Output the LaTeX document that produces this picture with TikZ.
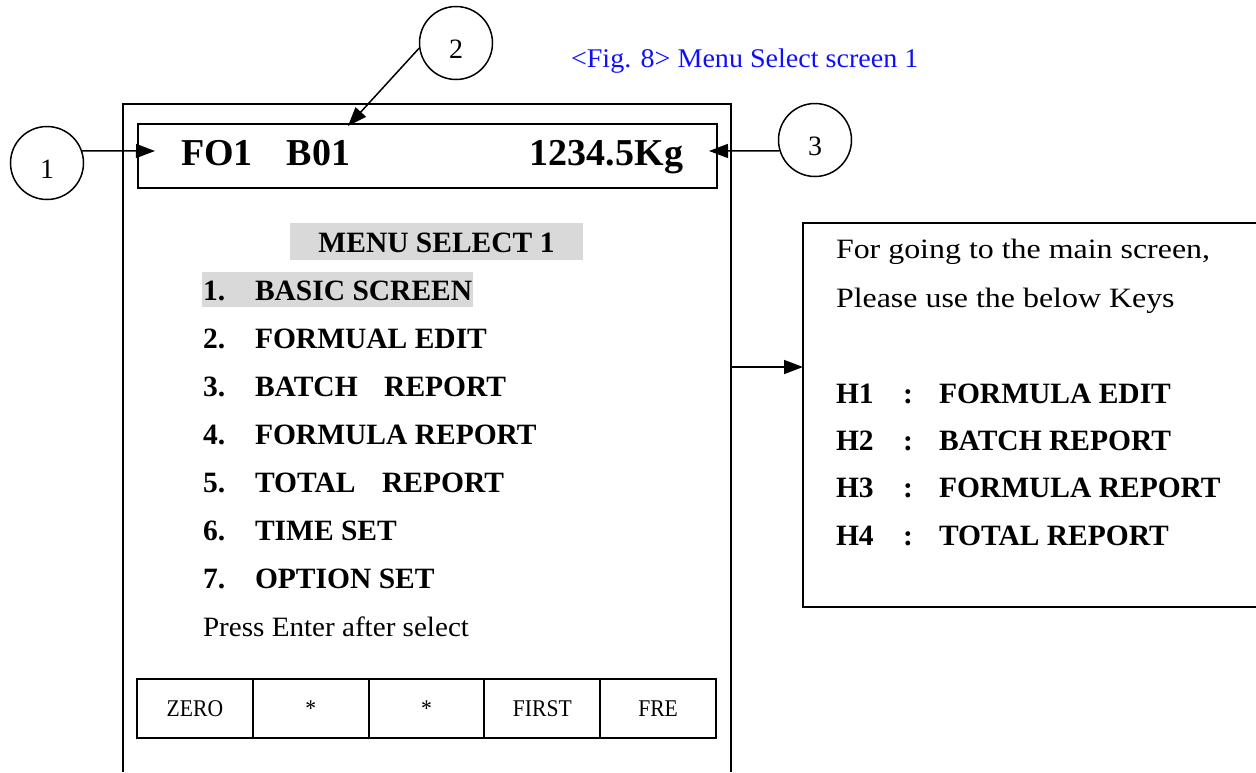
\documentclass[tikz,border=0pt]{standalone}
\usepackage{fontspec}
\setmainfont{Liberation Serif}
\newfontfamily\wideA[FakeStretch=1.14]{Liberation Serif}
\newfontfamily\wideB[FakeStretch=1.04]{Liberation Serif}
\newfontfamily\narrowC[FakeStretch=0.9]{Liberation Serif}
\usetikzlibrary{arrows.meta}
\definecolor{capblue}{RGB}{15,15,250}
\definecolor{hl}{RGB}{217,217,217}
\newcommand{\circnum}[1]{\raisebox{-15pt}[0pt][0pt]{#1}}
\begin{document}
\begin{tikzpicture}[x=1pt,y=-1pt,line width=2pt,
  circ/.style={circle,draw,line width=1.5pt,minimum size=73pt,inner sep=0pt,font=\fontsize{28}{30}\selectfont},
  arr/.style={-{Triangle[length=19pt,width=14pt]},line width=1.5pt},
  menu/.style={anchor=base west,inner sep=0pt,font=\fontsize{29.5}{31}\selectfont\bfseries},
  plainA/.style={anchor=base west,inner sep=0pt,font=\wideA\fontsize{28}{30}\selectfont},
  plainB/.style={anchor=base west,inner sep=0pt,font=\wideB\fontsize{28}{30}\selectfont},
  btn/.style={draw,minimum width=115.8pt,minimum height=59pt,inner sep=0pt,font=\narrowC\fontsize{24}{26}\selectfont}]
\useasboundingbox (0,0) rectangle (1256,772);
% screen outline
\draw (123,772) -- (123,104) -- (731,104) -- (731,772);
% header
\node[draw,minimum width=579pt,minimum height=64pt,anchor=north west] (hdr) at (137,123) {};
\node[anchor=base west,inner sep=0pt,font=\fontsize{38}{40}\selectfont\bfseries] (fo) at (180,165) {FO1\hspace{0.9em}B01};
\node[anchor=base east,inner sep=0pt,font=\fontsize{38}{40}\selectfont\bfseries] (kg) at (684,165) {1234.5Kg};
% circles
\node[circ] (c1) at (47,163) {\circnum{1}};
\node[circ] (c2) at (456,43) {\circnum{2}};
\node[circ] (c3) at (815,140) {\circnum{3}};
\coordinate (p1) at (155,151);
\coordinate (p2) at (348,126);
\coordinate (p3) at (709,151);
\draw[arr] (c1.19) -- (p1);
\draw[arr] (c2.188) -- (p2);
\draw[arr] (c3.197) -- (p3);
% caption
\node[anchor=base west,inner sep=0pt,text=capblue,font=\wideB\fontsize{27}{29}\selectfont] (cap) at (570,67) {<Fig. 8> Menu Select screen 1};
% menu
\fill[hl] (290,223) rectangle (583,260);
\node[anchor=base,inner sep=0pt,font=\fontsize{29.5}{31}\selectfont\bfseries] (ms) at (436.5,252) {MENU SELECT 1};
\fill[hl] (202,272) rectangle (473,307);
\node[menu] (n1) at (202,300) {1.};   \node[menu] (t1) at (254,300) {BASIC SCREEN};
\node[menu] (n2) at (202,348) {2.};   \node[menu] (t2) at (254,348) {FORMUAL EDIT};
\node[menu] (n3) at (202,396) {3.};   \node[menu] (t3) at (254,396) {BATCH\hspace{0.9em}REPORT};
\node[menu] (n4) at (202,444) {4.};   \node[menu] (t4) at (254,444) {FORMULA REPORT};
\node[menu] (n5) at (202,492) {5.};   \node[menu] (t5) at (254,492) {TOTAL\hspace{0.9em}REPORT};
\node[menu] (n6) at (202,540) {6.};   \node[menu] (t6) at (254,540) {TIME SET};
\node[menu] (n7) at (202,588) {7.};   \node[menu] (t7) at (254,588) {OPTION SET};
\node[plainB] (pe) at (202,636) {Press Enter after select};
% buttons
\node[btn] (b1) at (194.9,708.5) {ZERO};
\node[btn] (b2) at (310.7,708.5) {*};
\node[btn] (b3) at (426.5,708.5) {*};
\node[btn] (b4) at (542.3,708.5) {FIRST};
\node[btn] (b5) at (658.1,708.5) {FRE};
% right box
\draw (1256,223) -- (803,223) -- (803,607) -- (1256,607);
\coordinate (sr) at (731,367);
\coordinate (kb) at (803,367);
\draw[arr] (sr) -- (kb);
\node[plainA] (r1) at (835,258) {For going to the main screen,};
\node[plainA] (r2) at (835,307) {Please use the below Keys};
\node[menu] (h1) at (835,403) {H1};  \node[menu] (k1) at (902,403) {:};  \node[menu] (e1) at (938,403) {FORMULA EDIT};
\node[menu] (h2) at (835,450) {H2};  \node[menu] (k2) at (902,450) {:};  \node[menu] (e2) at (938,450) {BATCH REPORT};
\node[menu] (h3) at (835,497) {H3};  \node[menu] (k3) at (902,497) {:};  \node[menu] (e3) at (938,497) {FORMULA REPORT};
\node[menu] (h4) at (835,545) {H4};  \node[menu] (k4) at (902,545) {:};  \node[menu] (e4) at (938,545) {TOTAL REPORT};
\end{tikzpicture}
\end{document}
